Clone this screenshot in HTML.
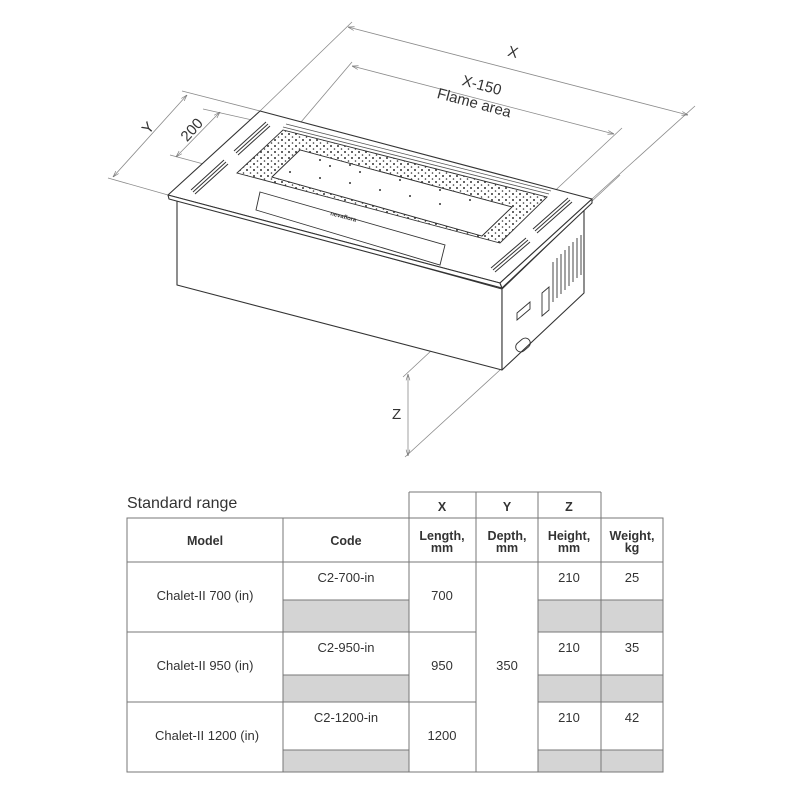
<!DOCTYPE html>
<html><head><meta charset="utf-8"><style>
html,body{margin:0;padding:0;background:#fff}
svg{display:block}
text{font-family:"Liberation Sans",sans-serif;fill:#333}
</style></head><body>
<svg width="800" height="800" viewBox="0 0 800 800">
<defs>
<pattern id="dots" width="7" height="6" patternUnits="userSpaceOnUse">
<circle cx="2" cy="2" r="1" fill="#333"/><circle cx="5.5" cy="5" r="0.8" fill="#333"/>
</pattern>
<marker id="ar" viewBox="0 0 10 10" refX="10" refY="5" markerWidth="8" markerHeight="8" orient="auto-start-reverse"><path d="M0,2 L10,5 L0,8" fill="none" stroke="#777" stroke-width="1"/></marker>
</defs>
<!-- dimension lines -->
<g stroke="#8a8a8a" stroke-width="0.8" fill="none">
<line x1="260" y1="111" x2="352" y2="22"/>
<line x1="592" y1="199" x2="695" y2="106"/>
<line x1="348" y1="27" x2="688" y2="115" marker-start="url(#ar)" marker-end="url(#ar)"/>
<line x1="290" y1="135" x2="352" y2="62"/>
<line x1="545" y1="200" x2="622" y2="128"/>
<line x1="352" y1="66" x2="614" y2="134" marker-start="url(#ar)" marker-end="url(#ar)"/>
<line x1="168" y1="195" x2="108" y2="178"/>
<line x1="260" y1="111" x2="182" y2="91"/>
<line x1="113" y1="177" x2="187" y2="95" marker-start="url(#ar)" marker-end="url(#ar)"/>
<line x1="237" y1="173" x2="170" y2="155"/>
<line x1="270" y1="124" x2="203" y2="109"/>
<line x1="176" y1="157" x2="220" y2="112" marker-start="url(#ar)" marker-end="url(#ar)"/>
<line x1="620" y1="175" x2="403" y2="377"/>
<line x1="500" y1="370" x2="405" y2="457"/>
<line x1="408" y1="374" x2="408" y2="456" marker-start="url(#ar)" marker-end="url(#ar)"/>
</g>
<g fill="#777" font-size="15">
<text x="508" y="57" transform="rotate(15 513 52)" fill="#666">X</text>
<text x="462" y="91" transform="rotate(15 485 85)" fill="#666">X-150</text>
<text x="436" y="108" transform="rotate(15 475 104)" fill="#666">Flame area</text>
<text x="143" y="133" transform="rotate(-48 148 128)" fill="#666">Y</text>
<text x="178" y="134" transform="rotate(-48 192 128)" fill="#666">200</text>
<text x="392" y="419" fill="#666">Z</text>
</g>
<!-- box -->
<g stroke="#333" stroke-width="1.1" fill="#fff" stroke-linejoin="round">
<polygon points="177,199 502,289 502,370 177,285"/>
<polygon points="502,289 584,210 584,293 502,370"/>
<polygon points="168,195 260,111 592,199 500,283"/>
<polygon points="168,195 500,283 502,288 169,199"/>
<polygon points="500,283 592,199 592,203 502,288"/>
</g>
<!-- burner area -->
<path d="M237,173 L283,130 L547,197 L500,243 Z M272,177 L300,150 L512,207 L482,236 Z" fill="url(#dots)" fill-rule="evenodd" stroke="#333" stroke-width="0.9"/>
<polygon points="272,177 300,150 512,207 482,236" fill="#fff" stroke="#333" stroke-width="0.9"/>
<line x1="283" y1="127" x2="549" y2="194" stroke="#555" stroke-width="0.8"/>
<line x1="286" y1="124" x2="551" y2="191" stroke="#555" stroke-width="0.8"/>
<g fill="#333">
<circle cx="290" cy="172" r="1"/><circle cx="320" cy="178" r="1"/><circle cx="350" cy="183" r="1"/><circle cx="380" cy="190" r="1"/><circle cx="410" cy="196" r="1"/><circle cx="440" cy="204" r="1"/><circle cx="330" cy="166" r="1"/><circle cx="360" cy="172" r="1"/><circle cx="400" cy="180" r="1"/><circle cx="440" cy="190" r="1"/><circle cx="470" cy="200" r="1"/><circle cx="320" cy="160" r="1"/><circle cx="350" cy="165" r="1"/>
</g>
<polygon points="260,192 445,245 440,265 256,210" fill="#fff" stroke="#333" stroke-width="0.9"/>
<text x="330" y="215" font-size="6" transform="rotate(15 330 215)" fill="#333" font-weight="bold">nevaflora</text>
<!-- vents -->
<g stroke="#333" stroke-width="1">
<line x1="234" y1="151" x2="266" y2="122"/><line x1="236" y1="153" x2="268" y2="124"/><line x1="238" y1="155" x2="270" y2="126"/>
<line x1="191" y1="190" x2="224" y2="160"/><line x1="193" y1="192" x2="226" y2="162"/><line x1="195" y1="194" x2="228" y2="164"/>
<line x1="533" y1="229" x2="568" y2="198"/><line x1="535" y1="231" x2="570" y2="200"/><line x1="537" y1="233" x2="572" y2="202"/>
<line x1="491" y1="268" x2="526" y2="238"/><line x1="493" y1="270" x2="528" y2="240"/><line x1="495" y1="272" x2="530" y2="242"/>
</g>
<g stroke="#333" stroke-width="0.9">
<line x1="553" y1="262" x2="553" y2="302"/><line x1="557" y1="258" x2="557" y2="298"/><line x1="561" y1="254" x2="561" y2="294"/><line x1="565" y1="250" x2="565" y2="290"/><line x1="569" y1="246" x2="569" y2="286"/><line x1="573" y1="242" x2="573" y2="282"/><line x1="577" y1="238" x2="577" y2="278"/><line x1="581" y1="235" x2="581" y2="275"/>
</g>
<g stroke="#333" stroke-width="0.9" fill="none">
<polygon points="542,293 549,287 549,310 542,316"/>
<polygon points="517,313 530,302 530,309 517,320"/>
<rect x="515" y="340" width="16" height="10" rx="5" transform="rotate(-40 523 345)"/>
</g>
<!-- table -->
<text x="127" y="508" font-size="16" fill="#444">Standard range</text>
<g fill="#d4d4d4">
<rect x="283" y="600" width="126" height="32"/><rect x="283" y="675" width="126" height="27"/><rect x="283" y="750" width="126" height="22"/>
<rect x="538" y="600" width="125" height="32"/><rect x="538" y="675" width="125" height="27"/><rect x="538" y="750" width="125" height="22"/>
</g>
<g stroke="#777" stroke-width="1" fill="none">
<rect x="127" y="518" width="536" height="254"/>
<line x1="409" y1="492" x2="601" y2="492"/>
<line x1="409" y1="492" x2="409" y2="772"/><line x1="476" y1="492" x2="476" y2="772"/><line x1="538" y1="492" x2="538" y2="772"/><line x1="601" y1="492" x2="601" y2="772"/>
<line x1="283" y1="518" x2="283" y2="772"/>
<line x1="127" y1="562" x2="663" y2="562"/>
<line x1="127" y1="632" x2="476" y2="632"/><line x1="538" y1="632" x2="663" y2="632"/>
<line x1="127" y1="702" x2="476" y2="702"/><line x1="538" y1="702" x2="663" y2="702"/>
<line x1="283" y1="600" x2="409" y2="600"/><line x1="538" y1="600" x2="663" y2="600"/>
<line x1="283" y1="675" x2="409" y2="675"/><line x1="538" y1="675" x2="663" y2="675"/>
<line x1="283" y1="750" x2="409" y2="750"/><line x1="538" y1="750" x2="663" y2="750"/>
</g>
<g font-size="12.5" text-anchor="middle" fill="#222" font-weight="bold">
<text x="442" y="511">X</text><text x="507" y="511">Y</text><text x="569" y="511">Z</text>
<text x="205" y="545">Model</text><text x="346" y="545">Code</text>
<text x="442" y="540">Length,</text><text x="442" y="552">mm</text>
<text x="507" y="540">Depth,</text><text x="507" y="552">mm</text>
<text x="569" y="540">Height,</text><text x="569" y="552">mm</text>
<text x="632" y="540">Weight,</text><text x="632" y="552">kg</text>
</g>
<g font-size="13" text-anchor="middle" fill="#444">
<text x="205" y="600">Chalet-II 700 (in)</text><text x="346" y="582">C2-700-in</text><text x="442" y="600">700</text>
<text x="569" y="582">210</text><text x="632" y="582">25</text>
<text x="205" y="670">Chalet-II 950 (in)</text><text x="346" y="652">C2-950-in</text><text x="442" y="670">950</text>
<text x="507" y="670">350</text><text x="569" y="652">210</text><text x="632" y="652">35</text>
<text x="207" y="740">Chalet-II 1200 (in)</text><text x="346" y="722">C2-1200-in</text><text x="442" y="740">1200</text>
<text x="569" y="722">210</text><text x="632" y="722">42</text>
</g>
</svg>
</body></html>
